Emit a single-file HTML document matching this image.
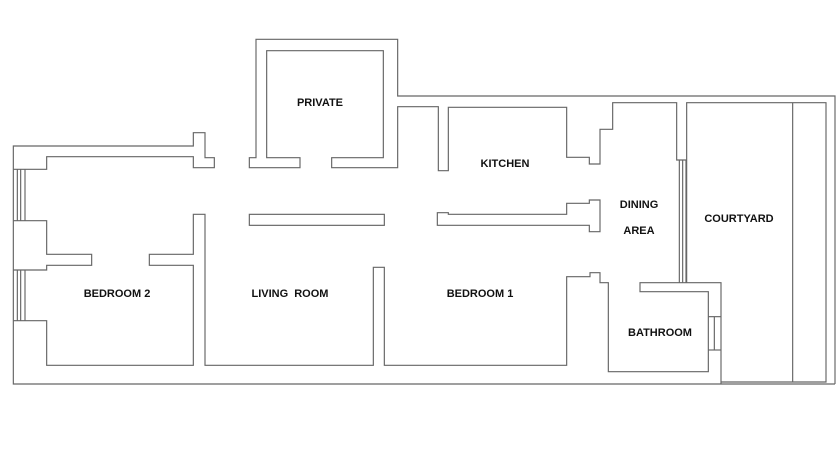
<!DOCTYPE html>
<html><head><meta charset="utf-8"><style>
html,body{margin:0;padding:0;background:#fff;width:840px;height:460px;overflow:hidden}
svg{display:block}
text{font-family:"Liberation Sans",sans-serif;font-weight:bold;font-size:11px;fill:#111;text-anchor:middle}
</style></head><body>
<svg width="840" height="460" viewBox="0 0 840 460" xmlns="http://www.w3.org/2000/svg">
<g transform="translate(0,30) scale(0.3333333)" fill="none" stroke="#666" stroke-width="3.5">
<polyline points="1260,230 1193,230 1193,413 995,413 995,383 1150,383 1150,62 800,62 800,383 900,383 900,413 748,413 748,383 768,383 768,28 1193,28 1193,198 1260,198"/>
<polyline points="40,418 140,418 140,380 580,380 580,413 643,413 643,383 615,383 615,308 580,308 580,348 40,348 40,1062 2505,1062"/>
<polyline points="40,572 140,572 140,673 275,673 275,706 140,706 140,720 40,720"/>
<polyline points="40,872 140,872 140,1006 580,1006 580,706 448,706 448,673 580,673 580,553 615,553 615,1006 1120,1006 1120,712 1153,712 1153,1006 1260,1006"/>
<rect x="748" y="553" width="405" height="33"/>
<line x1="52" y1="418" x2="52" y2="572"/><line x1="62" y1="418" x2="62" y2="572"/><line x1="75" y1="418" x2="75" y2="572"/>
<line x1="52" y1="720" x2="52" y2="872"/><line x1="62" y1="720" x2="62" y2="872"/><line x1="75" y1="720" x2="75" y2="872"/>
</g>
<g transform="translate(420,30) scale(0.3333333)" fill="none" stroke="#666" stroke-width="3.5">
<polyline points="0,198 1245,198 1245,1062"/>
<polyline points="0,230 55,230 55,422 85,422 85,232 440,232 440,382 508,382 508,402 540,402 540,298 578,298 578,218 770,218 770,390 800,390"/>
<polygon points="52,548 85,548 85,553 440,553 440,520 508,520 508,510 540,510 540,605 508,605 508,586 52,586"/>
<polyline points="0,1006 440,1006 440,740 510,740 510,728 540,728 540,758 565,758 565,1025 865,1025 865,785 660,785 660,758 903,758 903,1062"/>
<polyline points="800,758 800,218 1218,218 1218,1056 903,1056"/>
<line x1="1118" y1="218" x2="1118" y2="1056"/>
<line x1="778" y1="390" x2="778" y2="758"/><line x1="788" y1="390" x2="788" y2="758"/><line x1="798" y1="390" x2="798" y2="758"/>
<line x1="865" y1="860" x2="903" y2="860"/><line x1="865" y1="960" x2="903" y2="960"/><line x1="883" y1="860" x2="883" y2="960"/>
</g>
<text x="320" y="106">PRIVATE</text>
<text x="505" y="167">KITCHEN</text>
<text x="639" y="208">DINING</text>
<text x="639" y="234">AREA</text>
<text x="739" y="222">COURTYARD</text>
<text x="117" y="297">BEDROOM 2</text>
<text x="290" y="297" style="word-spacing:3px">LIVING ROOM</text>
<text x="480" y="297">BEDROOM 1</text>
<text x="660" y="336">BATHROOM</text>
</svg>
</body></html>
